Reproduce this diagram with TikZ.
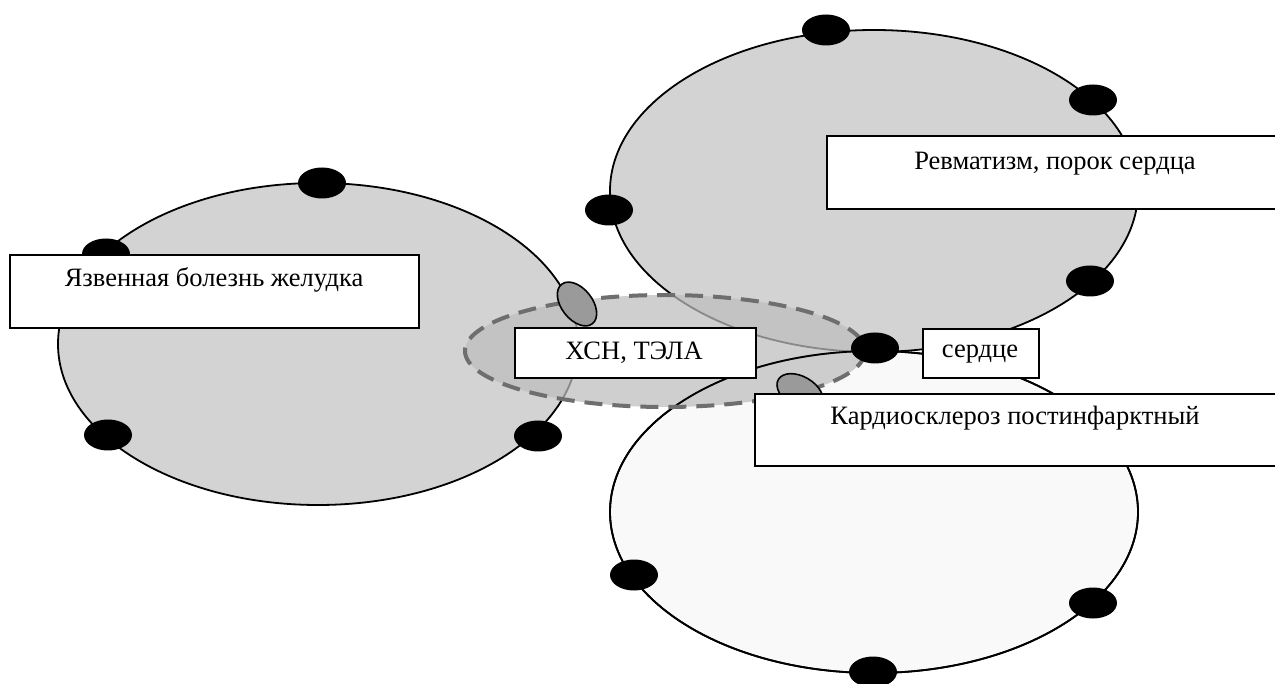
\documentclass[tikz,border=0pt]{standalone}
\usepackage{fontspec}
\setmainfont{Liberation Serif}
\usetikzlibrary{shapes.geometric}
\definecolor{zonegray}{HTML}{D3D3D3}
\definecolor{zonelight}{HTML}{F9F9F9}
\definecolor{overlapgray}{HTML}{BDBDBD}
\definecolor{dashgray}{HTML}{6E6E6E}
\definecolor{ovalgray}{HTML}{9A9A9A}
\tikzset{
  zone/.style={draw=black, line width=1.8pt},
  dot/.style={ellipse, fill=black, draw=none, minimum width=48pt, minimum height=31pt, inner sep=0pt},
  oval/.style={ellipse, fill=ovalgray, draw=black, line width=1.6pt, minimum width=50pt, minimum height=31pt, inner sep=0pt},
  labelbox/.style={rectangle, draw=black, fill=white, line width=1.8pt, inner sep=0pt, anchor=north west},
  txt/.style={inner sep=0pt, font=\fontsize{26.5}{30}\selectfont}
}
\begin{document}
\begin{tikzpicture}[x=1pt, y=-1pt]
\useasboundingbox (0,0) rectangle (1275,684);
\begin{scope}
\clip (0,0) rectangle (1275,684);
% three disease zones
\draw[zone, fill=zonegray] (318,344) ellipse [x radius=260, y radius=161];
\draw[zone, fill=zonegray] (874,191) ellipse [x radius=264, y radius=161];
\draw[zone, fill=zonelight] (874,512) ellipse [x radius=264, y radius=161];
% shared zone: translucent fill, then the lower zone's outline, then the dashed rim
\fill[overlapgray, fill opacity=0.72] (665,351) ellipse [x radius=200, y radius=56];
\draw[zone] (874,512) ellipse [x radius=264, y radius=161];
\draw[draw=dashgray, line width=4pt, dash pattern=on 18pt off 10pt]
  (665,351) ellipse [x radius=200, y radius=56];

% markers on the zone outlines
\node[dot] (l1) at (322,183) {};
\node[dot] (l2) at (106,254) {};
\node[dot] (l3) at (108,435) {};
\node[dot] (l4) at (538,436) {};
\node[dot] (t1) at (826,30) {};
\node[dot] (t2) at (1093,100) {};
\node[dot] (t3) at (609,210) {};
\node[dot] (t4) at (1090,281) {};
\node[dot] (h)  at (875,348) {};
\node[dot] (b1) at (634,575) {};
\node[dot] (b2) at (1093,603) {};
\node[dot] (b3) at (873,672) {};
\node[oval, rotate=-52] (o1) at (577,304) {};
\node[oval, rotate=-30] (o2) at (800,392) {};

% labels
\node[labelbox, minimum width=409pt, minimum height=73pt] (ulcerbox) at (9,254) {};
\node[txt] (ulcer) at (214,280) {Язвенная болезнь желудка};
\node[labelbox, minimum width=460pt, minimum height=73pt] (rheumbox) at (826,135) {};
\node[txt] (rheum) at (1055,164) {Ревматизм, порок сердца};
\node[labelbox, minimum width=241pt, minimum height=50pt] (chfbox) at (514,327) {};
\node[txt] (chf) at (634,353) {ХСН, ТЭЛА};
\node[labelbox, minimum width=116pt, minimum height=49pt] (heartbox) at (922,328) {};
\node[txt] (heart) at (980,354) {сердце};
\node[labelbox, minimum width=530pt, minimum height=72pt] (cardiobox) at (754,393) {};
\node[txt] (cardio) at (1015,418) {Кардиосклероз постинфарктный};
\end{scope}
\end{tikzpicture}
\end{document}
